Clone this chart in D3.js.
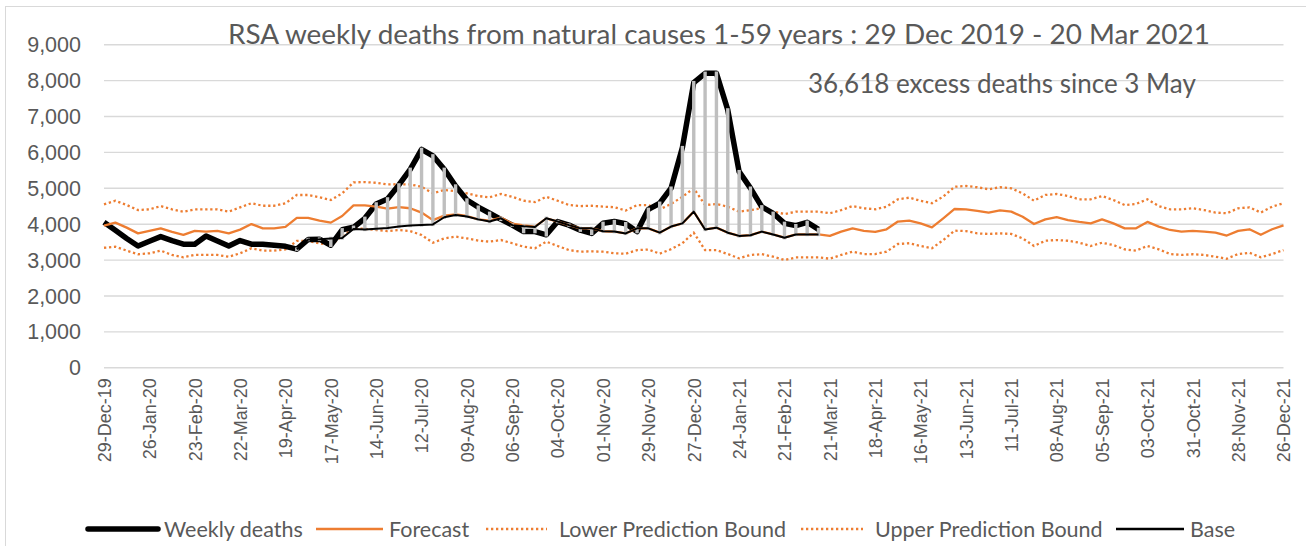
<!DOCTYPE html>
<html>
<head>
<meta charset="utf-8">
<style>
  body { margin: 0; background: #fff; }
  svg { font-family: Lato, "Open Sans", sans-serif; }
  .axis text { fill: #595959; }
  .axis .domain { display: none; }
  .grid line { stroke: #d9d9d9; stroke-width: 1.4; }
  .legend text { fill: #595959; font-size: 21.5px; }
</style>
</head>
<body>
<svg id="chart" width="1306" height="546"></svg>
<script src="https://d3js.org/d3.v7.min.js"></script>
<script>
// week index 0 = 29-Dec-19, last = 26-Dec-21 (105 weeks)
var tickLabels = ["29-Dec-19", "26-Jan-20", "23-Feb-20", "22-Mar-20", "19-Apr-20", "17-May-20", "14-Jun-20",
  "12-Jul-20", "09-Aug-20", "06-Sep-20", "04-Oct-20", "01-Nov-20", "29-Nov-20", "27-Dec-20", "24-Jan-21",
  "21-Feb-21", "21-Mar-21", "18-Apr-21", "16-May-21", "13-Jun-21", "11-Jul-21", "08-Aug-21", "05-Sep-21",
  "03-Oct-21", "31-Oct-21", "28-Nov-21", "26-Dec-21"];

var yTicks = [0, 1000, 2000, 3000, 4000, 5000, 6000, 7000, 8000, 9000];

var weekly = [4040, 3820, 3590, 3380, 3510, 3640, 3530, 3430, 3430, 3660, 3520, 3380, 3530, 3430, 3430, 3400, 3370, 3290, 3560, 3570,
  3400, 3830, 3900, 4150, 4550, 4690, 5080, 5515, 6070, 5890, 5515, 5050, 4660, 4460, 4290, 4120, 3960, 3780, 3780,
  3690, 4060, 3960, 3820, 3730, 4010, 4060, 4000, 3780, 4400, 4570, 4990, 6120, 7930, 8190, 8190, 7170, 5450, 4990, 4470, 4290, 4010, 3945, 4040, 3840];

var forecast = [3945, 4030, 3890, 3730, 3800, 3870, 3770, 3690, 3800, 3780, 3800, 3730, 3835, 3990, 3870, 3870, 3910, 4160, 4160, 4085,
  4030, 4215, 4510, 4510, 4475, 4420, 4460, 4430, 4310, 4100, 4225, 4260, 4215, 4120, 4085, 4170, 4000, 3950, 3920,
  4150, 4060, 3960, 3870, 3870, 3790, 3780, 3730, 3870, 3870, 3750, 3920, 4010, 4335, 3840, 3890, 3750, 3660, 3680, 3780, 3700, 3610, 3700, 3700, 3700,
  3660, 3780, 3870, 3800, 3770, 3845, 4060, 4085, 4010, 3900, 4150, 4410, 4400, 4360, 4310, 4370, 4335, 4195, 3990, 4120,
  4180, 4100, 4050, 4010, 4120, 4010, 3870, 3870, 4050, 3920, 3825, 3780, 3800, 3780, 3750, 3670, 3800, 3845, 3690, 3845, 3955];

var lower = [3330, 3360, 3250, 3150, 3175, 3250, 3130, 3065, 3130, 3130, 3130, 3080, 3175, 3315, 3250, 3250, 3285, 3520, 3520, 3455,
  3400, 3660, 3860, 3860, 3825, 3795, 3825, 3795, 3685, 3470, 3590, 3640, 3590, 3530, 3500, 3545, 3455, 3360, 3315,
  3500, 3380, 3265, 3220, 3230, 3220, 3175, 3165, 3265, 3280, 3165, 3290, 3455, 3750, 3265, 3265, 3155, 3035, 3130, 3150, 3080, 2990, 3060, 3060, 3060,
  3025, 3130, 3220, 3155, 3155, 3220, 3435, 3455, 3380, 3315, 3545, 3805, 3795, 3730, 3715, 3730, 3715, 3590, 3380, 3525,
  3545, 3525, 3470, 3380, 3470, 3405, 3285, 3250, 3380, 3285, 3155, 3130, 3150, 3130, 3080, 3025, 3155, 3190, 3065, 3155, 3265];

var upper = [4540, 4640, 4520, 4380, 4400, 4490, 4400, 4335, 4400, 4400, 4400, 4335, 4455, 4570, 4500, 4500, 4570, 4800, 4800, 4735,
  4660, 4845, 5150, 5160, 5140, 5095, 5100, 5095, 5030, 4845, 4940, 4910, 4845, 4770, 4735, 4830, 4750, 4640, 4600,
  4750, 4640, 4520, 4490, 4500, 4475, 4460, 4365, 4520, 4520, 4400, 4550, 4750, 4985, 4520, 4550, 4475, 4335, 4380, 4430, 4335, 4270, 4335, 4335, 4335,
  4290, 4380, 4490, 4430, 4400, 4475, 4680, 4725, 4640, 4570, 4755, 5030, 5050, 5015, 4960, 5015, 4985, 4845, 4640, 4800,
  4830, 4770, 4680, 4680, 4770, 4660, 4520, 4550, 4680, 4490, 4400, 4400, 4430, 4380, 4310, 4290, 4430, 4455, 4310, 4475, 4570];

// base starts at week 17 (19-Apr-20)
var baseStart = 17;
var base = [3290, 3560, 3570, 3590, 3600, 3850, 3840, 3860, 3880, 3920, 3950, 3965, 3980, 4180, 4240, 4200, 4120, 4060, 4150,
  3960, 3930, 3910,
  4150, 4060, 3960, 3870, 3870, 3790, 3780, 3730, 3870, 3870, 3750, 3920, 4010, 4335, 3840, 3890, 3750, 3660, 3680, 3780, 3700, 3610, 3700, 3700, 3700];

var legendItems = ["Weekly deaths", "Forecast", "Lower Prediction Bound", "Upper Prediction Bound", "Base"];

var svg = d3.select("#chart"),
    orange = "#ed7d31";

svg.append("rect").attr("width", 1306).attr("height", 546).attr("fill", "#fff");
svg.append("rect")
    .attr("x", 5.5).attr("y", 6.5).attr("width", 1310).attr("height", 560)
    .attr("fill", "none").attr("stroke", "#d9d9d9").attr("stroke-width", 1);

var x = d3.scaleLinear().domain([0, 104]).range([104, 1283.5]);
var y = d3.scaleLinear().domain([0, 9000]).range([367.3, 44.2]);

// gridlines + y labels
var yAxis = svg.append("g")
    .attr("class", "axis grid")
    .attr("transform", "translate(104,0)")
    .call(d3.axisLeft(y).tickValues(yTicks).tickFormat(d3.format(",")).tickSize(-(1283.5 - 104)).tickPadding(23));
yAxis.selectAll("text").attr("font-size", 21.5).attr("dy", "0.35em");

// x labels, rotated
var xAxis = svg.append("g")
    .attr("class", "axis")
    .attr("transform", "translate(0,367.3)")
    .call(d3.axisBottom(x).tickValues(d3.range(0, 105, 4)).tickFormat(function(d) { return tickLabels[d / 4]; }).tickSize(0));
xAxis.selectAll("text")
    .attr("font-size", 18)
    .attr("text-anchor", "end")
    .attr("transform", "rotate(-90)")
    .attr("x", -11)
    .attr("y", 0)
    .attr("dy", "0.35em");

var line = d3.line()
    .defined(function(d) { return d != null; })
    .x(function(d, i) { return x(i); })
    .y(function(d) { return y(d); });

var baseFull = d3.range(baseStart).map(function() { return null; }).concat(base);

svg.append("path").datum(lower)
    .attr("fill", "none").attr("stroke", orange).attr("stroke-width", 2.3)
    .attr("stroke-dasharray", "2.3 2.7").attr("d", line);
svg.append("path").datum(upper)
    .attr("fill", "none").attr("stroke", orange).attr("stroke-width", 2.3)
    .attr("stroke-dasharray", "2.3 2.7").attr("d", line);

svg.append("path").datum(weekly)
    .attr("fill", "none").attr("stroke", "#000").attr("stroke-width", 5.5)
    .attr("stroke-linejoin", "round").attr("d", line);

svg.append("path").datum(forecast)
    .attr("fill", "none").attr("stroke", orange).attr("stroke-width", 2.3)
    .attr("stroke-linejoin", "round").attr("d", line);

// high-low lines between weekly deaths and base
svg.append("g").selectAll("line")
    .data(base)
    .enter().append("line")
    .attr("x1", function(d, i) { return x(i + baseStart); })
    .attr("x2", function(d, i) { return x(i + baseStart); })
    .attr("y1", function(d) { return y(d); })
    .attr("y2", function(d, i) { return y(weekly[i + baseStart]); })
    .attr("stroke", "#bfbfbf").attr("stroke-width", 3.4).attr("stroke-linecap", "square");

svg.append("path").datum(baseFull)
    .attr("fill", "none").attr("stroke", "#000").attr("stroke-width", 2)
    .attr("stroke-linejoin", "round").attr("d", line);

// title and note
function fitWidth(t, w) {
  var len = t.node().getComputedTextLength();
  t.attr("font-size", +t.attr("font-size") * w / len);
}
var title = svg.append("text")
    .attr("x", 719).attr("y", 43.5)
    .attr("text-anchor", "middle").attr("fill", "#595959").attr("font-size", 25)
    .text("RSA weekly deaths from natural causes 1-59 years : 29 Dec 2019 - 20 Mar 2021");
fitWidth(title, 982);

var note = svg.append("text")
    .attr("x", 808).attr("y", 93)
    .attr("fill", "#595959").attr("font-size", 22)
    .text("36,618 excess deaths since 3 May");
fitWidth(note, 388);

// legend
var legX = [88, 316, 486, 801, 1116];
var legLen = [70, 67, 61, 62, 68];
var legStyle = [
  {stroke: "#000", width: 5.5, dash: null},
  {stroke: orange, width: 2.3, dash: null},
  {stroke: orange, width: 2.3, dash: "2.3 2.7"},
  {stroke: orange, width: 2.3, dash: "2.3 2.7"},
  {stroke: "#000", width: 2.3, dash: null}
];
var leg = svg.append("g").attr("class", "legend")
    .selectAll("g").data(legendItems).enter().append("g")
    .attr("transform", function(d, i) { return "translate(" + legX[i] + ",529)"; });
leg.append("line")
    .attr("x1", 0).attr("x2", function(d, i) { return legLen[i]; })
    .attr("stroke", function(d, i) { return legStyle[i].stroke; })
    .attr("stroke-width", function(d, i) { return legStyle[i].width; })
    .attr("stroke-dasharray", function(d, i) { return legStyle[i].dash; })
    .attr("stroke-linecap", function(d, i) { return i == 0 ? "round" : "butt"; });
leg.append("text")
    .attr("x", function(d, i) { return legLen[i] + (i == 2 || i == 3 ? 12 : 6); })
    .attr("dy", "0.35em")
    .text(function(d) { return d; });
</script>
</body>
</html>
